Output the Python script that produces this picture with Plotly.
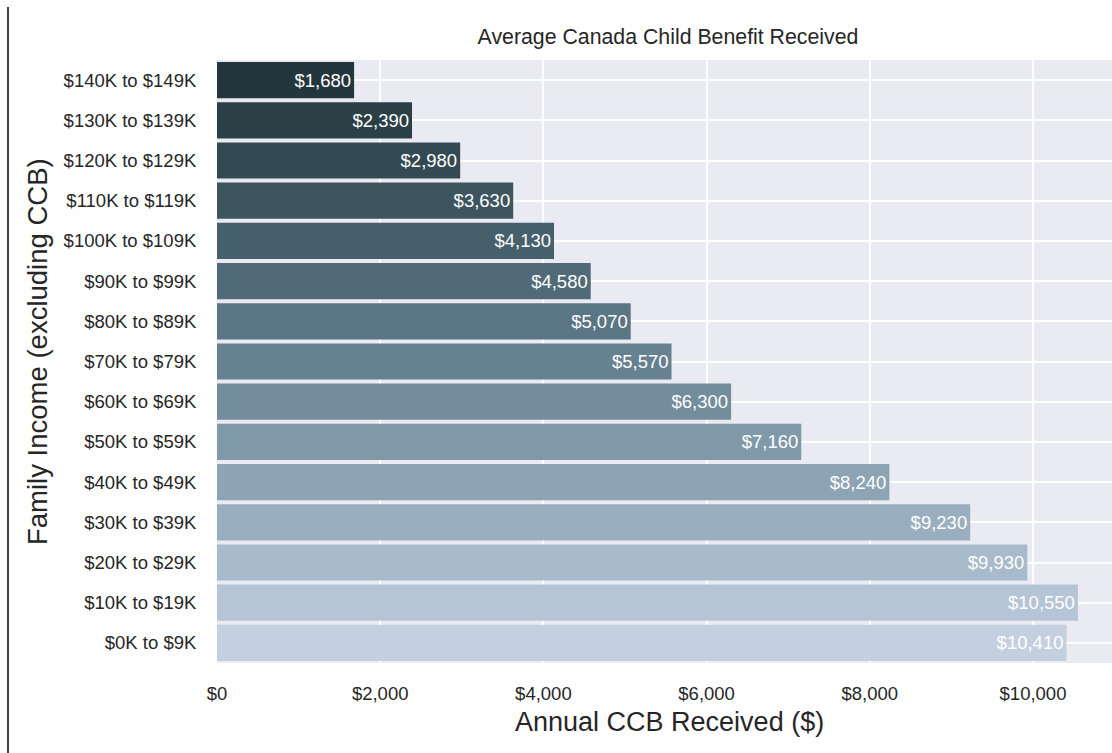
import plotly.graph_objects as go

# Family income brackets (bottom to top) and average CCB received
income_brackets = [
    "$0K to $9K", "$10K to $19K", "$20K to $29K", "$30K to $39K",
    "$40K to $49K", "$50K to $59K", "$60K to $69K", "$70K to $79K",
    "$80K to $89K", "$90K to $99K", "$100K to $109K", "$110K to $119K",
    "$120K to $129K", "$130K to $139K", "$140K to $149K",
]
ccb_received = [
    10410, 10550, 9930, 9230, 8240, 7160, 6300, 5570,
    5070, 4580, 4130, 3630, 2980, 2390, 1680,
]
x_tick_values = [0, 2000, 4000, 6000, 8000, 10000]
x_tick_labels = ["$0", "$2,000", "$4,000", "$6,000", "$8,000", "$10,000"]

# Light-to-dark slate palette, lowest income bracket lightest
bar_colors = [
    "#c4d0e0", "#b5c5d5", "#a7bbca", "#99afbf", "#8ca4b4",
    "#8099a8", "#738d9c", "#66818f", "#5a7583", "#506b77",
    "#46606b", "#3d555f", "#344a53", "#2b3f47", "#24363d",
]

FONT = "Liberation Sans, Arial, sans-serif"
TEXT_COLOR = "#262626"

# plot-area geometry in pixels (used for placing text outside the axes)
L, R, T, B = 217, 0, 60, 90
W, H = 1112, 753
PW, PH = W - L - R, H - T - B


def px_to_paper_x(px):
    return (px - L) / PW


def px_to_paper_y(py):
    return (H - B - py) / PH


fig = go.Figure(
    go.Bar(
        x=ccb_received,
        y=income_brackets,
        orientation="h",
        marker=dict(color=bar_colors, line=dict(width=0)),
        text=[f"${v:,}" for v in ccb_received],
        textposition="inside",
        insidetextanchor="end",
        textfont=dict(family=FONT, size=18.5, color="white"),
        hoverinfo="skip",
    )
)

fig.update_layout(
    width=W,
    height=H,
    margin=dict(l=L, r=R, t=T, b=B),
    paper_bgcolor="white",
    plot_bgcolor="#eaeaf2",
    bargap=0.1,
    showlegend=False,
    font=dict(family=FONT, color=TEXT_COLOR),
    title=dict(
        text="Average Canada Child Benefit Received",
        x=668 / W,
        xanchor="center",
        y=1 - 37 / H,
        yanchor="middle",
        font=dict(family=FONT, size=21.3, color=TEXT_COLOR),
    ),
    xaxis=dict(
        range=[0, 10968],
        tickvals=x_tick_values,
        ticktext=x_tick_labels,
        tickfont=dict(family=FONT, size=18.5, color=TEXT_COLOR),
        ticks="outside",
        ticklen=14,
        tickcolor="rgba(0,0,0,0)",
        showgrid=True,
        gridcolor="white",
        gridwidth=2,
        zeroline=False,
        showline=False,
        fixedrange=True,
    ),
    yaxis=dict(
        categoryorder="array",
        categoryarray=income_brackets,
        tickfont=dict(family=FONT, size=18.5, color=TEXT_COLOR),
        ticks="outside",
        ticklen=16,
        tickcolor="rgba(0,0,0,0)",
        showgrid=True,
        gridcolor="white",
        gridwidth=2,
        zeroline=False,
        showline=False,
        fixedrange=True,
    ),
    annotations=[
        dict(
            text="Annual CCB Received ($)",
            xref="paper", yref="paper",
            x=px_to_paper_x(669), y=px_to_paper_y(722),
            xanchor="center", yanchor="middle",
            showarrow=False,
            font=dict(family=FONT, size=27, color=TEXT_COLOR),
        ),
        dict(
            text="Family Income (excluding CCB)",
            xref="paper", yref="paper",
            x=px_to_paper_x(37), y=px_to_paper_y(352),
            xanchor="center", yanchor="middle",
            textangle=-90,
            showarrow=False,
            font=dict(family=FONT, size=27.5, color=TEXT_COLOR),
        ),
    ],
    shapes=[
        # thin rule along the left edge of the page
        dict(
            type="line",
            xref="paper", yref="paper",
            x0=px_to_paper_x(8), x1=px_to_paper_x(8),
            y0=px_to_paper_y(760), y1=px_to_paper_y(7),
            line=dict(color="black", width=1.5),
            layer="above",
        )
    ],
)

fig.write_html("out.html")
